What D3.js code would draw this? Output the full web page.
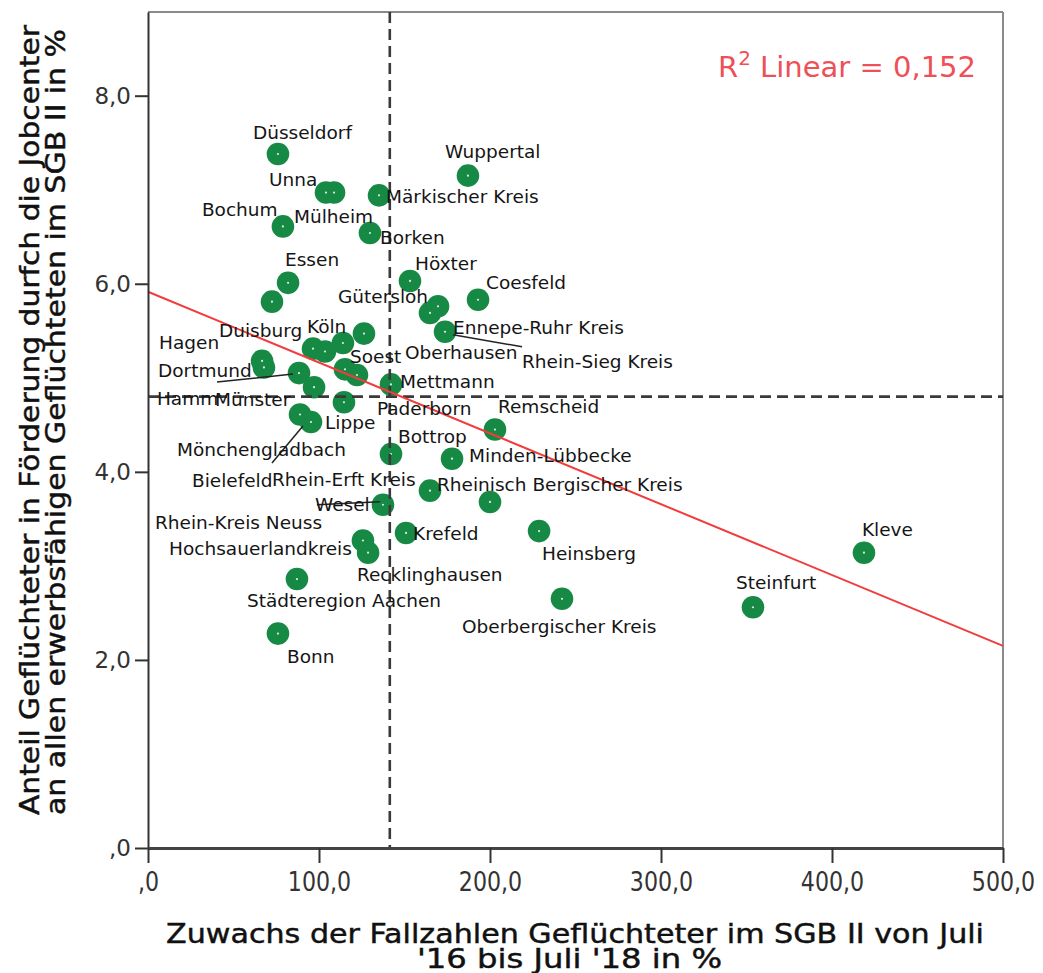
<!DOCTYPE html>
<html>
<head>
<meta charset="utf-8">
<script src="https://cdn.jsdelivr.net/npm/d3@7"></script>
<style>
    body { margin: 0; background: #fff; }
    svg { display: block; }
</style>
</head>
<body>
<svg id="chart" width="1043" height="973"></svg>
<script>
// Jobcenter names (empty string = point without label)
var names = ["Düsseldorf", "Wuppertal", "Unna", "Mülheim", "Märkischer Kreis", "Bochum", "Borken", "Essen", "",
    "Höxter", "Coesfeld", "Gütersloh", "Ennepe-Ruhr Kreis", "Rhein-Sieg Kreis", "Oberhausen", "Köln", "Duisburg",
    "Mönchengladbach", "Hagen", "Hamm", "Dortmund", "Münster", "Soest", "Recklinghausen", "Mettmann", "Paderborn",
    "Lippe", "Bielefeld", "Remscheid", "Bottrop", "Minden-Lübbecke", "Rhein-Erft Kreis", "Rheinisch Bergischer Kreis",
    "Wesel", "Krefeld", "Rhein-Kreis Neuss", "Hochsauerlandkreis", "Heinsberg", "Städteregion Aachen",
    "Oberbergischer Kreis", "Bonn", "Steinfurt", "Kleve"];

// growth of refugee cases in SGB II, July '16 - July '18 (%)
var growth = [76.0, 187.1, 104.1, 108.8, 135.1, 78.9, 129.8, 81.9, 72.5,
    153.2, 193.0, 164.9, 169.6, 173.7, 126.3, 114.0, 96.5,
    103.5, 66.7, 67.8, 88.3, 97.1, 115.2, 122.2, 142.1, 114.6,
    88.9, 95.3, 202.9, 142.1, 177.8, 164.9, 200.0,
    137.4, 150.9, 125.7, 128.7, 228.7, 87.1,
    242.1, 76.0, 353.8, 418.7];

// share of refugees in Jobcenter programmes (%)
var share = [7.38, 7.15, 6.97, 6.97, 6.94, 6.61, 6.54, 6.01, 5.81,
    6.03, 5.83, 5.69, 5.76, 5.49, 5.47, 5.37, 5.31,
    5.28, 5.18, 5.11, 5.05, 4.90, 5.09, 5.03, 4.93, 4.74,
    4.61, 4.53, 4.45, 4.19, 4.14, 3.80, 3.68,
    3.65, 3.35, 3.27, 3.14, 3.37, 2.86,
    2.65, 2.28, 2.56, 3.14];

var xTicks = [0, 100, 200, 300, 400, 500];
var yTicks = [0, 2, 4, 6, 8];

// reference lines and linear fit
var refGrowth = 141.4;
var refShare = 4.80;
var fitIntercept = 5.915;
var fitSlope = -0.00753;
var rSquared = 0.152;

// label placement (pixel offset of label start from its point)
var labelOffsets = {
    "Düsseldorf": [-25, -22], "Wuppertal": [-23, -24], "Unna": [-57, -13], "Mülheim": [-40, 24],
    "Märkischer Kreis": [7, 1], "Bochum": [-81, -17], "Borken": [10, 4], "Essen": [-3, -23],
    "Höxter": [5, -18], "Coesfeld": [8, -17], "Gütersloh": [-92, -17], "Ennepe-Ruhr Kreis": [15, 21],
    "Rhein-Sieg Kreis": [77, 30], "Oberhausen": [41, 19], "Köln": [-36, -17], "Duisburg": [-94, -18],
    "Mönchengladbach": [-148, 98], "Hagen": [-103, -19], "Hamm": [-107, 31], "Dortmund": [-141, -3],
    "Münster": [-99, 12], "Soest": [5, -13], "Recklinghausen": [0, 199], "Mettmann": [9, -3],
    "Paderborn": [33, 6], "Lippe": [25, 8], "Bielefeld": [-119, 58], "Remscheid": [3, -23],
    "Bottrop": [7, -18], "Minden-Lübbecke": [17, -3], "Rhein-Erft Kreis": [-158, -11],
    "Rheinisch Bergischer Kreis": [-53, -18], "Wesel": [-68, 0], "Krefeld": [7, 0],
    "Rhein-Kreis Neuss": [-208, -18], "Hochsauerlandkreis": [-199, -4], "Heinsberg": [3, 22],
    "Städteregion Aachen": [-50, 21], "Oberbergischer Kreis": [-100, 28], "Bonn": [9, 23],
    "Steinfurt": [-17, -25], "Kleve": [-2, -23]
};

// leader lines (offsets from point)
var leaders = {
    "Rhein-Sieg Kreis": [8, 3, 77, 15],
    "Dortmund": [-6, 1, -82, 9],
    "Bielefeld": [-8, 4, -39, 41],
    "Wesel": [-3, -3, -66, 0]
};

var data = growth.map(function (d, i) {
    return { name: names[i], x: d, y: share[i] };
});

var svg = d3.select("#chart");

var x = d3.scaleLinear().domain([0, 500]).range([148, 1003]);
var y = d3.scaleLinear().domain([0, 8.89]).range([848, 12]);

function fmt(d) {
    return d === 0 ? ",0" : d.toFixed(1).replace(".", ",");
}

// frame top / right
svg.append("line")
    .attr("x1", x(0)).attr("x2", x(500)).attr("y1", y(8.89)).attr("y2", y(8.89))
    .attr("stroke", "#8a8a8a").attr("stroke-width", 2);
svg.append("line")
    .attr("x1", x(500)).attr("x2", x(500)).attr("y1", y(8.89)).attr("y2", y(0))
    .attr("stroke", "#8a8a8a").attr("stroke-width", 2);

// points
var pts = svg.append("g");
pts.selectAll("circle.dot")
    .data(data)
    .enter().append("circle")
    .attr("class", "dot")
    .attr("cx", function (d) { return x(d.x); })
    .attr("cy", function (d) { return y(d.y); })
    .attr("r", 11.3)
    .attr("fill", "#168a44");
pts.selectAll("circle.center")
    .data(data)
    .enter().append("circle")
    .attr("class", "center")
    .attr("cx", function (d) { return x(d.x); })
    .attr("cy", function (d) { return y(d.y); })
    .attr("r", 1.1)
    .attr("fill", "#d8eedd");

// dashed reference lines
svg.append("line")
    .attr("x1", x(refGrowth)).attr("x2", x(refGrowth)).attr("y1", y(8.89)).attr("y2", y(0))
    .attr("stroke", "#3a3a3a").attr("stroke-width", 2.6).attr("stroke-dasharray", "11,6");
svg.append("line")
    .attr("x1", x(0)).attr("x2", x(500)).attr("y1", y(refShare)).attr("y2", y(refShare))
    .attr("stroke", "#3a3a3a").attr("stroke-width", 2.6).attr("stroke-dasharray", "11,6");

// linear fit
svg.append("line")
    .attr("x1", x(0)).attr("y1", y(fitIntercept))
    .attr("x2", x(500)).attr("y2", y(fitIntercept + fitSlope * 500))
    .attr("stroke", "#f23c3c").attr("stroke-width", 2);

// leader lines
data.forEach(function (d) {
    var l = leaders[d.name];
    if (!l) return;
    svg.append("line")
        .attr("x1", x(d.x) + l[0]).attr("y1", y(d.y) + l[1])
        .attr("x2", x(d.x) + l[2]).attr("y2", y(d.y) + l[3])
        .attr("stroke", "#222").attr("stroke-width", 1.5);
});

// point labels
svg.append("g").selectAll("text")
    .data(data.filter(function (d) { return d.name !== ""; }))
    .enter().append("text")
    .attr("x", function (d) { return x(d.x) + labelOffsets[d.name][0]; })
    .attr("y", function (d) { return y(d.y) + labelOffsets[d.name][1]; })
    .attr("dy", "0.36em")
    .attr("font-family", "DejaVu Sans, Verdana, sans-serif")
    .attr("font-size", 18.5)
    .attr("fill", "#151515")
    .text(function (d) { return d.name; });

// y axis
var yAxis = svg.append("g")
    .attr("transform", "translate(" + x(0) + ",0)")
    .call(d3.axisLeft(y).tickValues(yTicks).tickSize(13).tickSizeOuter(0).tickPadding(4).tickFormat(fmt));
yAxis.select(".domain").attr("stroke", "#333").attr("stroke-width", 2);
yAxis.selectAll(".tick line").attr("stroke", "#333").attr("stroke-width", 2);
yAxis.selectAll(".tick text")
    .attr("font-family", "DejaVu Sans, Verdana, sans-serif")
    .attr("font-size", 23)
    .attr("fill", "#333");

// x axis
var xAxis = svg.append("g")
    .attr("transform", "translate(0," + y(0) + ")")
    .call(d3.axisBottom(x).tickValues(xTicks).tickSize(15).tickSizeOuter(0).tickPadding(9).tickFormat(fmt));
xAxis.select(".domain").attr("stroke", "#444").attr("stroke-width", 3);
xAxis.selectAll(".tick line").attr("stroke", "#333").attr("stroke-width", 2);
xAxis.selectAll(".tick text")
    .attr("font-family", "DejaVu Sans, Verdana, sans-serif")
    .attr("font-size", 27)
    .attr("fill", "#333")
    .attr("transform", "scale(0.82,1)");

// R squared annotation
var r2 = svg.append("text")
    .attr("x", 718).attr("y", 77)
    .attr("font-family", "DejaVu Sans, Verdana, sans-serif")
    .attr("font-size", 29)
    .attr("fill", "#ef4f57")
    .style("white-space", "pre");
r2.append("tspan").text("R");
r2.append("tspan").attr("dy", -12).attr("font-size", 20).text("2");
r2.append("tspan").attr("dy", 12).text(" Linear = " + rSquared.toFixed(3).replace(".", ","));

// axis titles (condensed, slightly heavy like the original)
function title(sel) {
    return sel.attr("lengthAdjust", "spacingAndGlyphs")
        .attr("font-family", "DejaVu Sans, sans-serif").attr("font-size", 26)
        .attr("fill", "#111").attr("stroke", "#111").attr("stroke-width", 0.45);
}
svg.append("text")
    .attr("x", 166).attr("y", 943)
    .attr("textLength", 818)
    .call(title)
    .text("Zuwachs der Fallzahlen Geflüchteter im SGB II von Juli");
svg.append("text")
    .attr("x", 417).attr("y", 968)
    .attr("textLength", 305)
    .call(title)
    .text("'16 bis Juli '18 in %");

svg.append("text")
    .attr("transform", "translate(39,815) rotate(-90)")
    .attr("textLength", 790)
    .call(title)
    .text("Anteil Geflüchteter in Förderung durfch die Jobcenter");
svg.append("text")
    .attr("transform", "translate(65,815) rotate(-90)")
    .attr("textLength", 786)
    .call(title)
    .text("an allen erwerbsfähigen Geflüchteten im SGB II in %");
</script>
</body>
</html>
